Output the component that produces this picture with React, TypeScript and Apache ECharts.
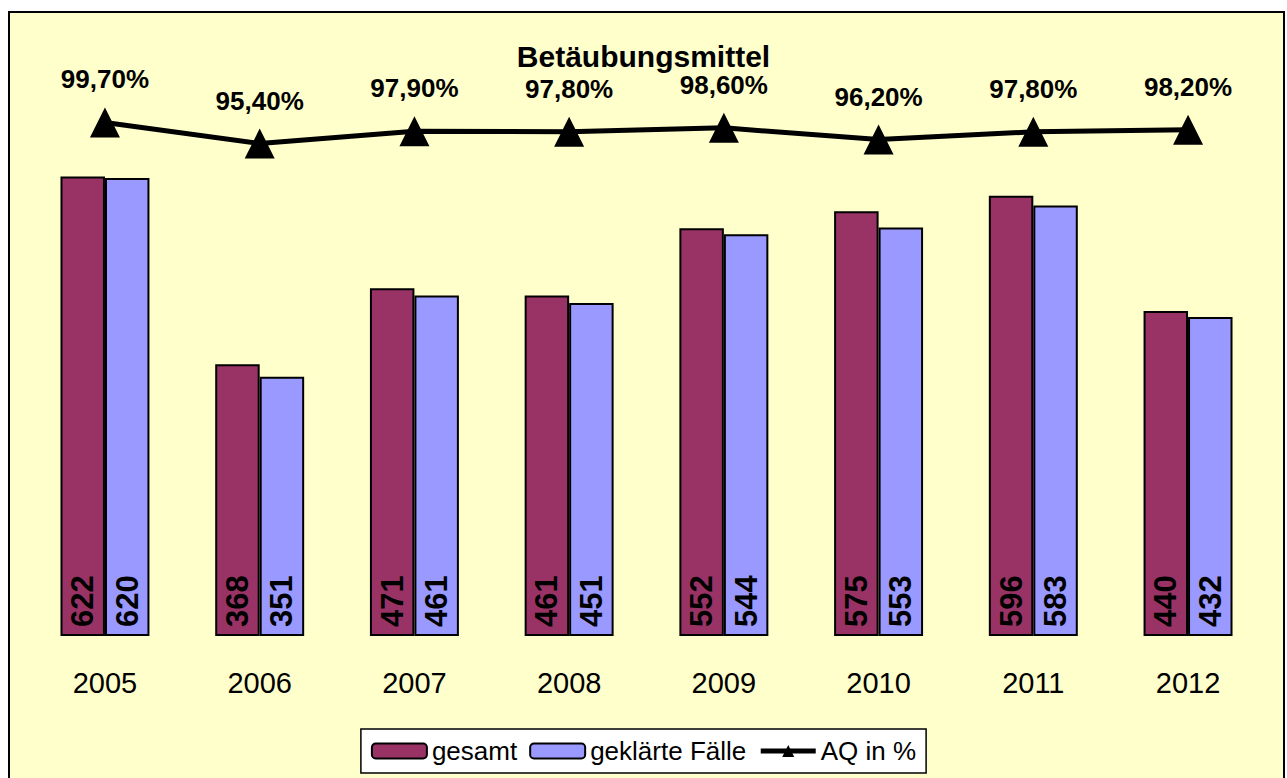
import React, { useEffect, useRef } from "react";
import * as echarts from "echarts";

const years = ["2005", "2006", "2007", "2008", "2009", "2010", "2011", "2012"];
const gesamt = [622, 368, 471, 461, 552, 575, 596, 440];
const geklaert = [620, 351, 461, 451, 544, 553, 583, 432];
const aq = [99.7, 95.4, 97.9, 97.8, 98.6, 96.2, 97.8, 98.2];

const fmtPct = (v: number) => v.toFixed(2).replace(".", ",") + "%";

export default function App() {
  const ref = useRef<HTMLDivElement>(null);
  useEffect(() => {
    if (!ref.current) return;
    const chart = echarts.init(ref.current, null, { renderer: "svg" });
    const font = "Arial, 'Liberation Sans', sans-serif";
    const barLabel = {
      show: true,
      position: "insideBottom",
      rotate: 90,
      align: "left",
      verticalAlign: "middle",
      distance: 9,
      color: "#000",
      fontWeight: "bold",
      fontSize: 31,
      fontFamily: font,
    };
    chart.setOption({
      animation: false,
      backgroundColor: "#ffffff",
      textStyle: { fontFamily: font },
      graphic: [
        {
          type: "rect",
          z: 0,
          shape: { x: 9, y: 12, width: 1275, height: 800 },
          style: { fill: "#FFFFCC", stroke: "#000", lineWidth: 2 },
        },
      ],
      title: {
        text: "Betäubungsmittel",
        left: "center",
        top: 41,
        padding: 0,
        textStyle: { fontSize: 30, fontWeight: "bold", color: "#000", fontFamily: font },
      },
      legend: {
        left: "center",
        top: 729,
        itemWidth: 55,
        itemHeight: 15,
        itemGap: 12,
        padding: [9, 10, 9, 10],
        backgroundColor: "#ffffff",
        borderColor: "#000",
        borderWidth: 1.5,
        borderRadius: 0,
        textStyle: { fontSize: 26, color: "#000", fontFamily: font },
        data: [
          "gesamt",
          "geklärte Fälle",
          { name: "AQ in %", lineStyle: { width: 5, color: "#000" } },
        ],
      },
      grid: { left: 27.6, right: 21.6, top: 119, bottom: 142 },
      xAxis: {
        type: "category",
        data: years,
        axisLine: { show: false },
        axisTick: { show: false },
        axisLabel: { fontSize: 29, color: "#000", margin: 32, fontFamily: font },
      },
      yAxis: [
        { type: "value", min: 0, max: 700, show: false, splitLine: { show: false } },
        { type: "value", min: -5, max: 100.4, show: false, splitLine: { show: false } },
      ],
      series: [
        {
          name: "gesamt",
          type: "bar",
          data: gesamt,
          barGap: "0%",
          barCategoryGap: "42.5%",
          itemStyle: { color: "#993366", borderColor: "#000", borderWidth: 2 },
          label: barLabel,
        },
        {
          name: "geklärte Fälle",
          type: "bar",
          data: geklaert,
          barGap: "0%",
          barCategoryGap: "42.5%",
          itemStyle: { color: "#9999FF", borderColor: "#000", borderWidth: 2 },
          label: barLabel,
        },
        {
          name: "AQ in %",
          type: "line",
          yAxisIndex: 1,
          data: aq,
          z: 5,
          symbol: "triangle",
          symbolSize: 30,
          lineStyle: { color: "#000", width: 5 },
          itemStyle: { color: "#000" },
          label: {
            show: true,
            position: "top",
            distance: 15,
            formatter: (p: any) => fmtPct(p.value),
            color: "#000",
            fontWeight: "bold",
            fontSize: 26,
            fontFamily: font,
          },
        },
      ],
    });
    return () => chart.dispose();
  }, []);
  return (
    <div
      ref={ref}
      style={{ position: "absolute", left: 0, top: 0, width: 1287, height: 778 }}
    />
  );
}
